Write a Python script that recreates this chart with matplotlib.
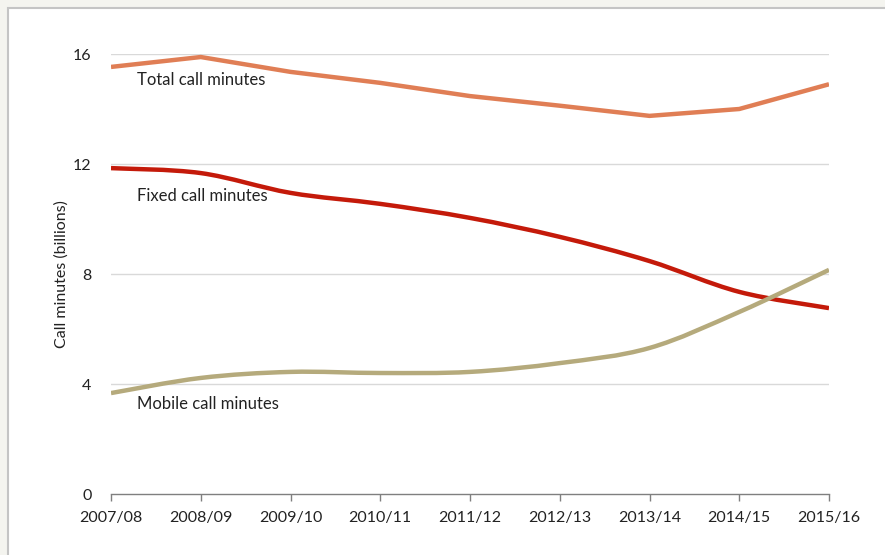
import matplotlib
matplotlib.use("Agg")
import matplotlib.pyplot as plt
from matplotlib.path import Path
from matplotlib.patches import PathPatch, Rectangle
import numpy as np

categories = ["2007/08", "2008/09", "2009/10", "2010/11", "2011/12",
              "2012/13", "2013/14", "2014/15", "2015/16"]
total_minutes = [15.53, 15.89, 15.35, 14.95, 14.47, 14.12, 13.75, 14.0, 14.9]
fixed_minutes = [11.85, 11.67, 10.95, 10.55, 10.04, 9.35, 8.47, 7.35, 6.76]
mobile_minutes = [3.67, 4.22, 4.44, 4.40, 4.44, 4.76, 5.31, 6.62, 8.15]
yticks = [0, 4, 8, 12, 16]

plt.rcParams['font.family'] = ['Lato', 'DejaVu Sans']

fig = plt.figure(figsize=(8.85, 5.55), dpi=100)
fig.patch.set_facecolor('#f4f4ef')
bg = Rectangle((8/885, -0.1), 1.2, 1.1 - 7.5/555, transform=fig.transFigure,
               facecolor='white', edgecolor='#c4c4c4', linewidth=1.5, zorder=-10)
fig.add_artist(bg)

ax = fig.add_axes([111/885, 1 - 494/555, (829 - 111)/885, (494 - 54)/555])
ax.set_zorder(5)
ax.set_facecolor('none')
x = np.arange(len(categories))


def smooth_path(xs, ys, t=1/6):
    xs = list(xs); ys = list(ys)
    n = len(xs)
    verts = [(xs[0], ys[0])]
    codes = [Path.MOVETO]
    for i in range(n - 1):
        i0 = max(i - 1, 0); i3 = min(i + 2, n - 1)
        c1 = (xs[i] + (xs[i + 1] - xs[i0]) * t, ys[i] + (ys[i + 1] - ys[i0]) * t)
        c2 = (xs[i + 1] - (xs[i3] - xs[i]) * t, ys[i + 1] - (ys[i3] - ys[i]) * t)
        verts += [c1, c2, (xs[i + 1], ys[i + 1])]
        codes += [Path.CURVE4] * 3
    return Path(verts, codes)


ax.plot(x, total_minutes, color='#e07e55', lw=3.2, solid_capstyle='butt', zorder=3)
ax.add_patch(PathPatch(smooth_path(x, fixed_minutes), facecolor='none',
                       edgecolor='#c41a0a', lw=3.2, capstyle='butt', zorder=3))
ax.add_patch(PathPatch(smooth_path(x, mobile_minutes), facecolor='none',
                       edgecolor='#b5aa7c', lw=3.2, capstyle='butt', zorder=3))

ax.set_xlim(0, len(categories) - 1)
ax.set_ylim(0, 16)
ax.set_yticks(yticks)
ax.set_yticklabels([str(v) for v in yticks])
ax.set_xticks(x)
ax.set_xticklabels(categories)
for v in yticks[1:]:
    ax.axhline(v, color='#d9d9d9', lw=1.0, zorder=1)

for s in ['top', 'right', 'left']:
    ax.spines[s].set_visible(False)
ax.spines['bottom'].set_color('#7f7f7f')
ax.spines['bottom'].set_linewidth(1.0)
ax.tick_params(axis='y', length=0, pad=14, labelsize=11.5, labelcolor='#222222')
ax.tick_params(axis='x', direction='out', length=5, color='#7f7f7f', width=1.0,
               pad=7, labelsize=11.5, labelcolor='#222222')

ax.set_ylabel('Call minutes (billions)', fontsize=11.5, color='#222222', labelpad=3)

ax.text(0.29, total_minutes[0] - 0.48, 'Total call minutes', fontsize=12, color='#222222',
        va='center', ha='left')
ax.text(0.29, fixed_minutes[0] - 1.01, 'Fixed call minutes', fontsize=12, color='#222222',
        va='center', ha='left')
ax.text(0.29, mobile_minutes[0] - 0.4, 'Mobile call minutes', fontsize=12, color='#222222',
        va='center', ha='left')

fig.savefig('out.png', dpi=100, facecolor=fig.get_facecolor())
